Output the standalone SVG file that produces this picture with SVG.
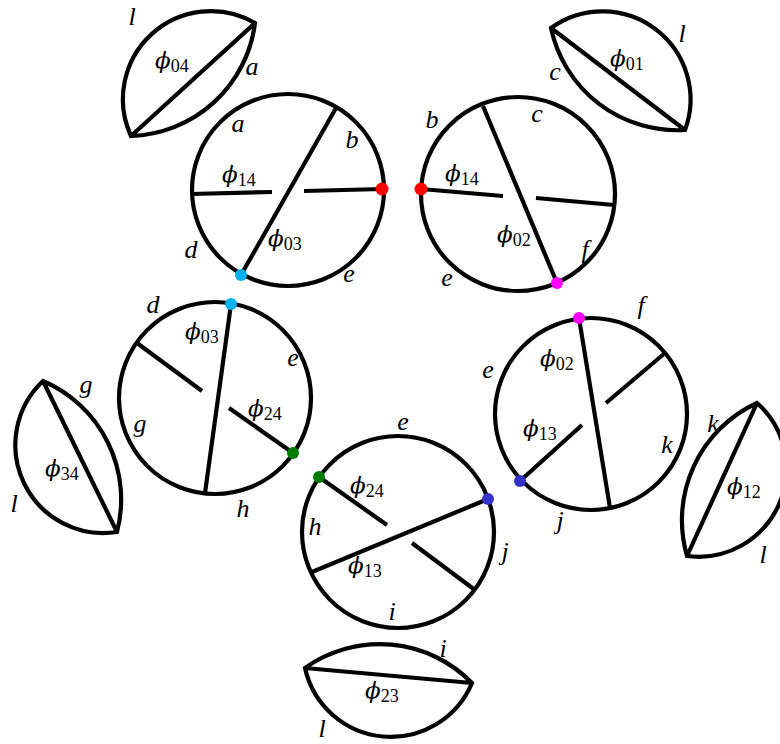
<svg xmlns="http://www.w3.org/2000/svg" width="780" height="744" viewBox="0 0 780 744">
<style>
.ln{fill:none;stroke:#000;stroke-width:4.2;stroke-linejoin:miter}
.t{font-family:"Liberation Serif","DejaVu Serif",serif;font-style:italic;font-size:26px;fill:#000}
.p{font-family:"DejaVu Serif","Liberation Serif",serif;font-style:italic;font-size:23px;fill:#000}
.s{font-family:"Liberation Serif","DejaVu Serif",serif;font-style:normal;font-size:18px}
.red{fill:#ff0000}.cy{fill:#00b0ef}.mg{fill:#ff00ff}.gr{fill:#007a00}.bl{fill:#3333cc}
</style>
<rect width="780" height="744" fill="#fff"/>
<g id="connectors"/>
<g id="lens04">
<path class="ln" d="M131,136 A88,88 0 0 1 255,23 A129,129 0 0 1 131,136 Z M131,136 L255,23"/>
<text class="t" x="132" y="25" text-anchor="middle">l</text>
<text class="t" x="252" y="75" text-anchor="middle">a</text>
<text class="p" x="155" y="68">ϕ<tspan class="s" dy="4">04</tspan></text>
</g>
<g id="lens01">
<path class="ln" d="M551,28 A88,88 0 0 1 685,130 A129,129 0 0 1 551,28 Z M551,28 L685,130"/>
<text class="t" x="682" y="42" text-anchor="middle">l</text>
<text class="t" x="555" y="80" text-anchor="middle">c</text>
<text class="p" x="610" y="66">ϕ<tspan class="s" dy="4">01</tspan></text>
</g>
<g id="lens34">
<path class="ln" d="M43,381 A88,88 0 0 0 117,532 A129,129 0 0 0 43,381 Z M43,381 L117,532"/>
<text class="t" x="86" y="393" text-anchor="middle">g</text>
<text class="t" x="14" y="512" text-anchor="middle">l</text>
<text class="p" x="45" y="476">ϕ<tspan class="s" dy="4">34</tspan></text>
</g>
<g id="lens12">
<path class="ln" d="M757,403 A88,88 0 0 1 687,556 A129,129 0 0 1 757,403 Z M757,403 L687,556"/>
<text class="t" x="713" y="432" text-anchor="middle">k</text>
<text class="t" x="763" y="563" text-anchor="middle">l</text>
<text class="p" x="727" y="494">ϕ<tspan class="s" dy="4">12</tspan></text>
</g>
<g id="lens23">
<path class="ln" d="M305,668 A88,88 0 0 0 472,683 A129,129 0 0 0 305,668 Z M305,668 L472,683"/>
<text class="t" x="443" y="657" text-anchor="middle">i</text>
<text class="t" x="322" y="737" text-anchor="middle">l</text>
<text class="p" x="365" y="698">ϕ<tspan class="s" dy="4">23</tspan></text>
</g>
<g id="circle1">
<circle class="ln" cx="288" cy="190" r="96"/>
<path class="ln" d="M336,108 L241,275 M191,194 L272,192 M304,191 L383,189"/>
<circle class="red" cx="382" cy="189" r="6.5"/>
<circle class="cy" cx="241" cy="275" r="6"/>
<text class="t" x="238" y="132" text-anchor="middle">a</text>
<text class="t" x="352" y="148" text-anchor="middle">b</text>
<text class="t" x="191" y="258" text-anchor="middle">d</text>
<text class="t" x="349" y="282" text-anchor="middle">e</text>
<text class="p" x="222" y="182">ϕ<tspan class="s" dy="4">14</tspan></text>
<text class="p" x="268" y="246">ϕ<tspan class="s" dy="4">03</tspan></text>
</g>
<g id="circle2">
<circle class="ln" cx="518" cy="194" r="97"/>
<path class="ln" d="M483,106 L557,283 M421,189 L503,196 M536,198 L614,205"/>
<circle class="red" cx="421" cy="189" r="6.5"/>
<circle class="mg" cx="557" cy="283" r="6"/>
<text class="t" x="432" y="128" text-anchor="middle">b</text>
<text class="t" x="537" y="122" text-anchor="middle">c</text>
<text class="t" x="585" y="258" text-anchor="middle">f</text>
<text class="t" x="447" y="286" text-anchor="middle">e</text>
<text class="p" x="445" y="181">ϕ<tspan class="s" dy="4">14</tspan></text>
<text class="p" x="497" y="242">ϕ<tspan class="s" dy="4">02</tspan></text>
</g>
<g id="circle3">
<circle class="ln" cx="215" cy="398" r="96"/>
<path class="ln" d="M231,304 L205,493 M137,343 L202,391 M229,408 L293,453"/>
<circle class="cy" cx="231" cy="304" r="6"/>
<circle class="gr" cx="293" cy="453" r="6"/>
<text class="t" x="153" y="313" text-anchor="middle">d</text>
<text class="t" x="293" y="366" text-anchor="middle">e</text>
<text class="t" x="140" y="432" text-anchor="middle">g</text>
<text class="t" x="243" y="517" text-anchor="middle">h</text>
<text class="p" x="185" y="339">ϕ<tspan class="s" dy="4">03</tspan></text>
<text class="p" x="248" y="416">ϕ<tspan class="s" dy="4">24</tspan></text>
</g>
<g id="circle4">
<circle class="ln" cx="591" cy="414" r="96"/>
<path class="ln" d="M579,318 L610,508 M520,481 L582,425 M606,403 L665,353"/>
<circle class="mg" cx="579" cy="318" r="6"/>
<circle class="bl" cx="520" cy="481" r="6"/>
<text class="t" x="641" y="314" text-anchor="middle">f</text>
<text class="t" x="488" y="378" text-anchor="middle">e</text>
<text class="t" x="667" y="453" text-anchor="middle">k</text>
<text class="t" x="560" y="529" text-anchor="middle">j</text>
<text class="p" x="540" y="366">ϕ<tspan class="s" dy="4">02</tspan></text>
<text class="p" x="523" y="436">ϕ<tspan class="s" dy="4">13</tspan></text>
</g>
<g id="circle5">
<circle class="ln" cx="398" cy="532" r="96"/>
<path class="ln" d="M488,499 L312,572 M319,477 L387,525 M412,543 L475,590"/>
<circle class="gr" cx="319" cy="477" r="6"/>
<circle class="bl" cx="488" cy="499" r="6"/>
<text class="t" x="403" y="430" text-anchor="middle">e</text>
<text class="t" x="315" y="535" text-anchor="middle">h</text>
<text class="t" x="505" y="560" text-anchor="middle">j</text>
<text class="t" x="392" y="620" text-anchor="middle">i</text>
<text class="p" x="350" y="493">ϕ<tspan class="s" dy="4">24</tspan></text>
<text class="p" x="348" y="573">ϕ<tspan class="s" dy="4">13</tspan></text>
</g>
</svg>
